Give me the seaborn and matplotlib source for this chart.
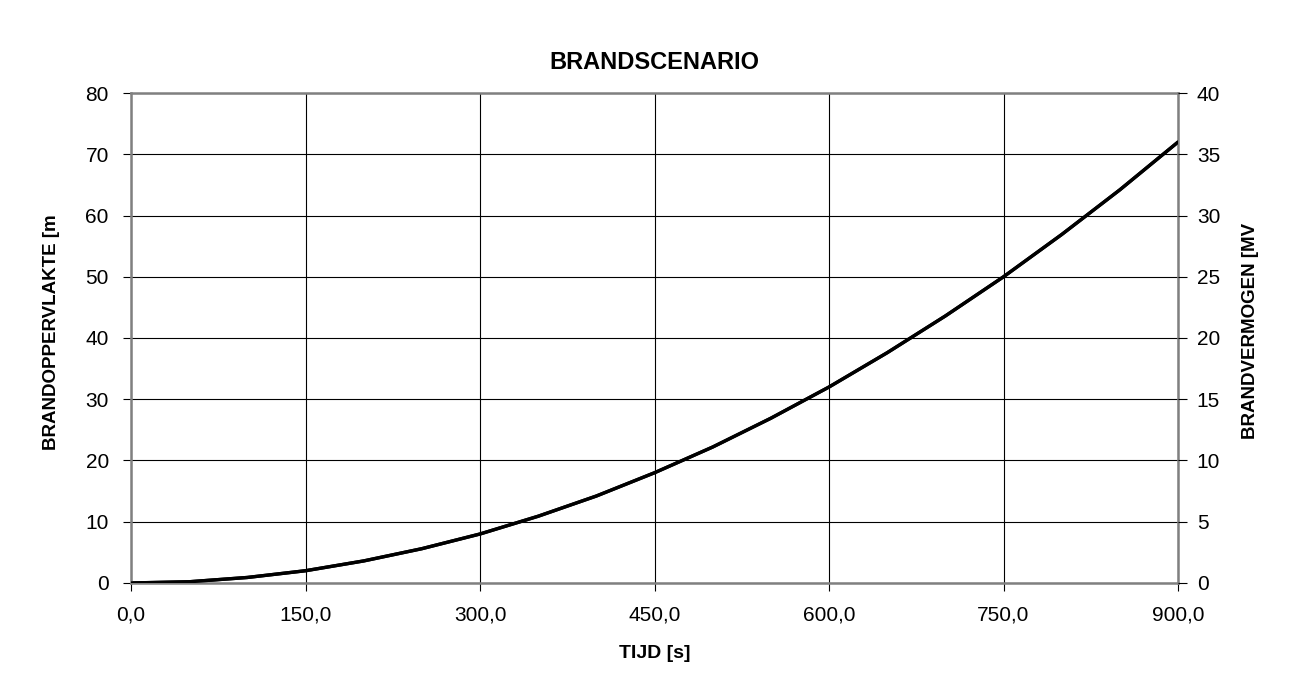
import numpy as np
import pandas as pd
import matplotlib
matplotlib.use("Agg")
import matplotlib.pyplot as plt
import seaborn as sns

# values
tijd = [0, 50, 100, 150, 200, 250, 300, 350, 400, 450,
        500, 550, 600, 650, 700, 750, 800, 850, 900]
oppervlakte = [0.0, 0.2, 0.9, 2.0, 3.6, 5.6, 8.0, 10.9, 14.2, 18.0,
               22.2, 26.9, 32.0, 37.6, 43.6, 50.0, 56.9, 64.2, 72.0]
vermogen = [0.0, 0.1, 0.45, 1.0, 1.8, 2.8, 4.0, 5.45, 7.1, 9.0,
            11.1, 13.45, 16.0, 18.8, 21.8, 25.0, 28.45, 32.1, 36.0]

x_ticks = [0, 150, 300, 450, 600, 750, 900]
x_labels = ["0,0", "150,0", "300,0", "450,0", "600,0", "750,0", "900,0"]
left_ticks = [0, 10, 20, 30, 40, 50, 60, 70, 80]
right_ticks = [0, 5, 10, 15, 20, 25, 30, 35, 40]

df = pd.DataFrame({"tijd": tijd, "oppervlakte": oppervlakte, "vermogen": vermogen})

sns.set_style("white")
plt.rcParams['font.family'] = ['Liberation Sans', 'DejaVu Sans']
plt.rcParams['text.color'] = 'black'
plt.rcParams['axes.labelcolor'] = 'black'
plt.rcParams['xtick.color'] = 'black'
plt.rcParams['ytick.color'] = 'black'

fig = plt.figure(figsize=(12.96, 6.9), dpi=100)
ax = fig.add_axes([0.1011, 0.1551, 0.8079, 0.7101])
ax2 = ax.twinx()

sns.lineplot(data=df, x="tijd", y="oppervlakte", ax=ax, color="black", linewidth=2.4)
sns.lineplot(data=df, x="tijd", y="vermogen", ax=ax2, color="black", linewidth=2.4)

ax.set_xlim(0, 900)
ax.set_ylim(0, 80)
ax2.set_ylim(0, 40)
ax.set_xticks(x_ticks)
ax.set_xticklabels(x_labels)
ax.set_yticks(left_ticks)
ax2.set_yticks(right_ticks)

ax.grid(True, color="black", linewidth=0.8)
for sp in ax.spines.values():
    sp.set_visible(True)
    sp.set_color("#808080")
    sp.set_linewidth(1.8)
for sp in ax2.spines.values():
    sp.set_visible(False)

ax.tick_params(axis="both", direction="out", length=5.5, width=0.8, color="black",
               labelsize=15, bottom=True, left=True)
ax.tick_params(axis="x", pad=11)
ax.tick_params(axis="y", pad=10.5)
ax2.tick_params(axis="y", direction="out", length=6.5, width=0.8, color="black",
                labelsize=15, right=True, pad=7)

ax.set_xlabel("TIJD [s]", fontsize=14, fontweight="bold")
ax.xaxis.set_label_coords(0.5, -0.143)
ax.xaxis.label.set_verticalalignment("center")

ax.set_ylabel("BRANDOPPERVLAKTE [m", fontsize=13.5, fontweight="bold")
ax.yaxis.set_label_coords(-0.0764, 0.512)
ax.yaxis.label.set_verticalalignment("center")

ax2.set_ylabel("BRANDVERMOGEN [MV", fontsize=13.5, fontweight="bold")
ax2.yaxis.set_label_coords(1.0688, 0.514)
ax2.yaxis.label.set_verticalalignment("center")

ax.set_title("BRANDSCENARIO", fontsize=17, fontweight="bold", y=1.063, va="center", pad=0)

fig.savefig("out.png", dpi=100)
